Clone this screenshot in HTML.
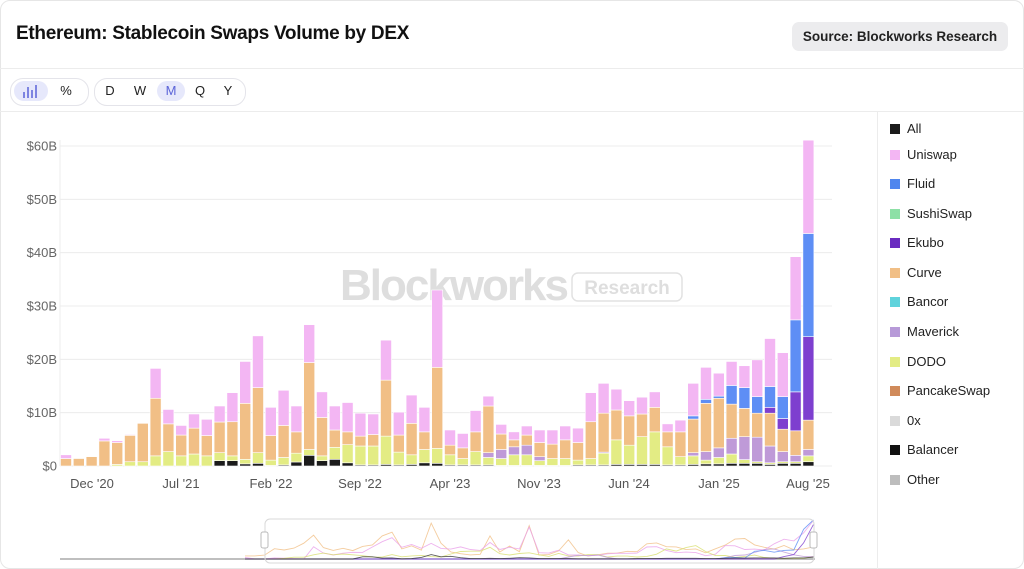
<!DOCTYPE html>
<html><head><meta charset="utf-8">
<style>
body{margin:0;width:1024px;height:569px;background:#fff;font-family:"Liberation Sans",sans-serif;overflow:hidden;position:relative}
.card{position:absolute;left:0;top:0;width:1022px;height:567px;border:1px solid #e6e6e6;border-radius:10px}
.title{position:absolute;left:16px;top:23px;font-size:19px;font-weight:bold;color:#111;letter-spacing:-0.3px}
.src{position:absolute;left:792px;top:22px;width:216px;height:29px;background:#ececee;border-radius:7px;font-size:13.5px;color:#222;text-align:center;line-height:29px;font-weight:bold}
.hl{position:absolute;left:0;width:1024px;height:1px;background:#ececec}
.pill{position:absolute;top:78px;height:26px;border:1px solid #e4e4ea;border-radius:13px}
.btn{position:absolute;top:81px;height:20px;font-size:13px;color:#222;line-height:20px;text-align:center}
.sel{background:#e6e8fb;color:#5a63d8;border-radius:10px}
.leg{position:absolute;left:890px;font-size:13px;color:#222}
.leg i{display:inline-block;width:10px;height:10px;margin-right:7px;vertical-align:-1px}
</style></head><body>
<div class="card"></div>
<div class="title">Ethereum: Stablecoin Swaps Volume by DEX</div>
<div class="src">Source: Blockworks Research</div>
<div class="hl" style="top:68px"></div>
<div class="hl" style="top:111px"></div>
<div class="pill" style="left:10px;width:77px"></div>
<div class="pill" style="left:94px;width:150px"></div>
<div class="btn sel" style="left:14px;width:34px">
<svg width="18" height="16" viewBox="0 0 18 16" style="margin-top:2px"><g stroke="#5a63d8" stroke-width="1.5"><line x1="2" y1="9" x2="2" y2="15"/><line x1="6" y1="4" x2="6" y2="15"/><line x1="10" y1="7" x2="10" y2="15"/><line x1="14" y1="2" x2="14" y2="15"/></g></svg></div>
<div class="btn" style="left:56px;width:20px">%</div>
<div class="btn" style="left:100px;width:20px">D</div>
<div class="btn" style="left:130px;width:20px">W</div>
<div class="btn sel" style="left:157px;width:28px">M</div>
<div class="btn" style="left:190px;width:20px">Q</div>
<div class="btn" style="left:218px;width:20px">Y</div>
<div style="position:absolute;left:877px;top:112px;width:1px;height:457px;background:#ececec"></div>
<div id="legend"></div>
<svg id="ch" width="1024" height="569" style="position:absolute;left:0;top:0"></svg>
<script>
const C={dark:"#1b1b1b",grey:"#cfcfcf",green:"#e3ec84",mav:"#bf9ad8",orange:"#f1bf86",ekubo:"#7e3fcf",blue:"#5e8ef5",pink:"#f3b6f3"};
const D=[
[0,0,0,1.4,0,0,2.1],[0,0,0,1.4,0,0,0],[0,0,0,1.75,0,0,0],[0,0,0,4.7,0,0,5.2],[0,0.3,0,4.4,0,0,4.75],[0,0.8,0,5.75,0,0,5.9],[0,0.8,0,8.0,0,0,0],
[0,1.9,0,12.7,0,0,18.3],[0,2.7,0,7.9,0,0,10.6],[0,1.9,0,5.8,0,0,7.6],[0,2.25,0,7.1,0,0,9.75],[0,1.9,0,5.7,0,0,8.75],
[1.0,2.5,0,8.25,0,0,11.25],[1.0,1.9,0,8.3,0,0,13.75],[0.4,1.25,0,11.75,0,0,19.6],[0.5,2.5,0,14.7,0,0,24.4],[0.1,1.1,0,5.7,0,0,11],
[0.2,1.6,0,7.6,0,0,14.2],[0.75,2.4,0,6.4,0,0,11.25],[2.0,3.1,0,19.4,0,0,26.5],[1.0,1.9,0,9.1,0,0,13.9],[1.25,3.5,0,6.75,0,0,11.25],
[0.6,4.0,0,6.4,0,0,11.9],[0.2,3.75,0,5.6,0,0,9.9],[0.2,3.75,0,5.9,0,0,9.75],[0.3,5.6,0,16.1,0,0,23.6],[0.2,2.6,0,5.8,0,0,10.1],
[0.3,2.1,0,8.0,0,0,13.3],[0.6,3.1,0,6.4,0,0,11],[0.5,3.3,0,18.5,0,0,33],[0.2,2.1,0,3.9,0,0,6.75],[0.2,1.4,0,3.4,0,0,6.1],
[0.2,2.7,0,6.4,0,0,10.4],[0.2,1.6,2.5,11.25,0,0,13.1],[0.1,1.4,3.1,6.0,0,0,7.8],[0.1,2.1,3.6,4.9,0,0,6.4],[0.1,2.1,3.9,5.8,0,0,7.5],
[0.1,1.0,1.75,4.4,0,0,6.75],[0.1,1.4,0,4.1,0,0,6.75],[0.1,1.4,0,4.9,0,0,7.5],[0.2,1.1,0,4.4,0,0,7.1],[0.2,1.4,0,8.3,0,0,13.75],
[0.2,2.4,2.6,9.9,0,0,15.5],[0.3,4.9,0,10.5,0,0,14.4],[0.3,3.9,0,9.4,0,0,12.25],[0.3,5.5,0,9.75,0,0,12.9],[0.3,6.4,0,11,0,0,13.9],
[0.2,3.6,0,6.4,0,0,7.9],[0.2,1.75,0,6.4,0,0,8.6],[0.3,1.9,2.5,8.8,0,9.4,15.5],[0.4,1.1,2.7,11.75,0,12.5,18.5],[0.4,1.6,3.4,12.7,0,13.1,17.4],
[0.5,2.25,5.2,11.6,0,15.1,19.6],[0.5,1.2,5.5,10.8,0,14.7,18.8],[0.5,0.8,5.4,9.9,0,13,19.9],[0.3,0.6,3.75,9.9,11,14.9,23.9],
[0.5,0.8,2.7,6.9,8.9,13,21.25],[0.5,0.8,2.0,6.6,13.9,27.4,39.25],[0.8,1.9,3.1,8.6,24.25,43.6,61.1]];
const keys=["dark","green","mav","orange","ekubo","blue","pink"];
let s="";
const y=v=>466-v*5.333;
[0,10,20,30,40,50,60].forEach(v=>{s+=`<line x1="60" x2="832" y1="${y(v)}" y2="${y(v)}" stroke="#ececec"/>`;
s+=`<text x="57" y="${y(v)+4.5}" text-anchor="end" font-size="13" fill="#666" font-family="Liberation Sans">$${v?v+"B":0}</text>`});
s+=`<line x1="60" x2="60" y1="140" y2="466" stroke="#ececec"/>`;
s+=`<text x="340" y="300" font-size="44" font-weight="bold" fill="#dedede" font-family="Liberation Sans" letter-spacing="-2">Blockworks</text>`;
s+=`<rect x="572" y="273" width="110" height="28" rx="6" fill="none" stroke="#e2e2e2" stroke-width="1.5"/><text x="627" y="294" text-anchor="middle" font-size="19" font-weight="bold" fill="#dedede" font-family="Liberation Sans">Research</text>`;
D.forEach((d,i)=>{const cx=66+i*12.8,x=cx-5.5;let prev=0;
 d.forEach((v,k)=>{if(v>prev){s+=`<rect x="${x}" y="${y(v)}" width="11" height="${(v-prev)*5.333}" fill="${C[keys[k]]}" stroke="#fff" stroke-width="0.6"/>`;prev=v;}});});
[["Dec '20",92],["Jul '21",181],["Feb '22",271],["Sep '22",360],["Apr '23",450],["Nov '23",539],["Jun '24",629],["Jan '25",719],["Aug '25",808]].forEach(([t,x])=>{
 s+=`<text x="${x}" y="488" text-anchor="middle" font-size="13" fill="#555" font-family="Liberation Sans">${t}</text>`});
s+=`<line x1="60" x2="815" y1="559" y2="559" stroke="#999" stroke-width="1.2"/>`;
function nav(k,col){let p="";D.forEach((d,i)=>{const x=245+i*9.8;let below=0;for(let j=0;j<k;j++)below=Math.max(below,d[j]);const v=d[k]>below?d[k]-below:0;p+=(i?"L":"M")+x.toFixed(1)+" "+Math.max(520,559-v*2.2).toFixed(1)});return `<path d="${p}" fill="none" stroke="${col}" stroke-width="0.9" opacity="0.8"/>`}
s+=nav(3,"#f1bf86")+nav(6,"#eaa0ea")+nav(1,"#d8e070")+nav(2,"#bf9ad8")+nav(5,"#5e8ef5")+nav(4,"#7e3fcf")+nav(0,"#333");
s+=`<rect x="265" y="519" width="549" height="44" rx="5" fill="none" stroke="#d8d8d8"/>`;
s+=`<rect x="261" y="532" width="7" height="16" rx="2" fill="#fff" stroke="#bbb"/><rect x="810" y="532" width="7" height="16" rx="2" fill="#fff" stroke="#bbb"/>`;
document.getElementById("ch").innerHTML=s;
const L=[["All","#1b1b1b"],["Uniswap","#f3b6f3"],["Fluid","#4f86ee"],["SushiSwap","#8de0a6"],["Ekubo","#6a2bc0"],["Curve","#f1bf86"],["Bancor","#5fd3dc"],["Maverick","#b79ad8"],["DODO","#e3ec84"],["PancakeSwap","#d08a5a"],["0x","#dadada"],["Balancer","#111"],["Other","#bdbdbd"]];
let h="";L.forEach(([t,c],i)=>{const top=[121,147,176,206,235,265,294,324,354,383,413,442,472][i];h+=`<div class="leg" style="top:${top}px"><i style="background:${c}"></i>${t}</div>`});
document.getElementById("legend").innerHTML=h;
</script>
</body></html>
